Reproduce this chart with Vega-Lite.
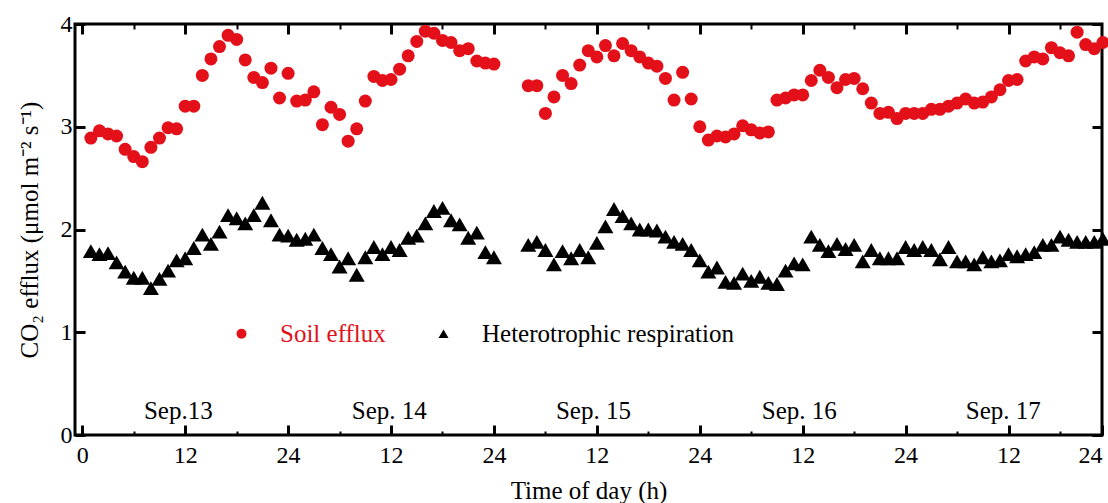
{
  "$schema": "https://vega.github.io/schema/vega-lite/v6.json",
  "width": 1027,
  "height": 411,
  "autosize": {"type": "none"},
  "padding": {"left": 75, "top": 24, "right": 6, "bottom": 68},
  "background": "white",
  "config": {
    "font": "Liberation Serif",
    "view": {"stroke": "black", "strokeWidth": 3},
    "axis": {"domain": false, "grid": false, "tickColor": "black", "labelColor": "black", "titleColor": "black", "labelFontSize": 24, "titleFontSize": 25, "titleFontWeight": "normal", "labelFont": "Liberation Serif", "titleFont": "Liberation Serif", "labelFlush": false, "labelOverlap": false}
  },
  "datasets": {
    "flux": [
      {"h":1,"series":"Soil efflux","v":2.89},{"h":2,"series":"Soil efflux","v":2.96},{"h":3,"series":"Soil efflux","v":2.93},{"h":4,"series":"Soil efflux","v":2.91},{"h":5,"series":"Soil efflux","v":2.78},{"h":6,"series":"Soil efflux","v":2.71},{"h":7,"series":"Soil efflux","v":2.66},{"h":8,"series":"Soil efflux","v":2.80},{"h":9,"series":"Soil efflux","v":2.89},{"h":10,"series":"Soil efflux","v":2.99},{"h":11,"series":"Soil efflux","v":2.98},{"h":12,"series":"Soil efflux","v":3.20},{"h":13,"series":"Soil efflux","v":3.20},{"h":14,"series":"Soil efflux","v":3.50},{"h":15,"series":"Soil efflux","v":3.66},{"h":16,"series":"Soil efflux","v":3.78},{"h":17,"series":"Soil efflux","v":3.89},{"h":18,"series":"Soil efflux","v":3.85},{"h":19,"series":"Soil efflux","v":3.65},{"h":20,"series":"Soil efflux","v":3.48},{"h":21,"series":"Soil efflux","v":3.43},{"h":22,"series":"Soil efflux","v":3.57},{"h":23,"series":"Soil efflux","v":3.28},{"h":24,"series":"Soil efflux","v":3.52},
      {"h":25,"series":"Soil efflux","v":3.25},{"h":26,"series":"Soil efflux","v":3.26},{"h":27,"series":"Soil efflux","v":3.34},{"h":28,"series":"Soil efflux","v":3.02},{"h":29,"series":"Soil efflux","v":3.19},{"h":30,"series":"Soil efflux","v":3.12},{"h":31,"series":"Soil efflux","v":2.86},{"h":32,"series":"Soil efflux","v":2.98},{"h":33,"series":"Soil efflux","v":3.25},{"h":34,"series":"Soil efflux","v":3.49},{"h":35,"series":"Soil efflux","v":3.45},{"h":36,"series":"Soil efflux","v":3.46},{"h":37,"series":"Soil efflux","v":3.56},{"h":38,"series":"Soil efflux","v":3.69},{"h":39,"series":"Soil efflux","v":3.83},{"h":40,"series":"Soil efflux","v":3.93},{"h":41,"series":"Soil efflux","v":3.91},{"h":42,"series":"Soil efflux","v":3.84},{"h":43,"series":"Soil efflux","v":3.82},{"h":44,"series":"Soil efflux","v":3.74},{"h":45,"series":"Soil efflux","v":3.76},{"h":46,"series":"Soil efflux","v":3.64},{"h":47,"series":"Soil efflux","v":3.62},{"h":48,"series":"Soil efflux","v":3.61},
      {"h":52,"series":"Soil efflux","v":3.40},{"h":53,"series":"Soil efflux","v":3.40},{"h":54,"series":"Soil efflux","v":3.13},{"h":55,"series":"Soil efflux","v":3.29},{"h":56,"series":"Soil efflux","v":3.50},{"h":57,"series":"Soil efflux","v":3.42},{"h":58,"series":"Soil efflux","v":3.60},{"h":59,"series":"Soil efflux","v":3.74},{"h":60,"series":"Soil efflux","v":3.68},{"h":61,"series":"Soil efflux","v":3.79},{"h":62,"series":"Soil efflux","v":3.69},{"h":63,"series":"Soil efflux","v":3.81},{"h":64,"series":"Soil efflux","v":3.74},{"h":65,"series":"Soil efflux","v":3.68},{"h":66,"series":"Soil efflux","v":3.62},{"h":67,"series":"Soil efflux","v":3.59},{"h":68,"series":"Soil efflux","v":3.47},{"h":69,"series":"Soil efflux","v":3.26},{"h":70,"series":"Soil efflux","v":3.53},{"h":71,"series":"Soil efflux","v":3.27},{"h":72,"series":"Soil efflux","v":3.00},
      {"h":73,"series":"Soil efflux","v":2.87},{"h":74,"series":"Soil efflux","v":2.91},{"h":75,"series":"Soil efflux","v":2.90},{"h":76,"series":"Soil efflux","v":2.93},{"h":77,"series":"Soil efflux","v":3.01},{"h":78,"series":"Soil efflux","v":2.97},{"h":79,"series":"Soil efflux","v":2.94},{"h":80,"series":"Soil efflux","v":2.95},{"h":81,"series":"Soil efflux","v":3.26},{"h":82,"series":"Soil efflux","v":3.28},{"h":83,"series":"Soil efflux","v":3.31},{"h":84,"series":"Soil efflux","v":3.31},{"h":85,"series":"Soil efflux","v":3.45},{"h":86,"series":"Soil efflux","v":3.55},{"h":87,"series":"Soil efflux","v":3.48},{"h":88,"series":"Soil efflux","v":3.38},{"h":89,"series":"Soil efflux","v":3.46},{"h":90,"series":"Soil efflux","v":3.47},{"h":91,"series":"Soil efflux","v":3.37},{"h":92,"series":"Soil efflux","v":3.23},{"h":93,"series":"Soil efflux","v":3.13},{"h":94,"series":"Soil efflux","v":3.14},{"h":95,"series":"Soil efflux","v":3.08},{"h":96,"series":"Soil efflux","v":3.13},
      {"h":97,"series":"Soil efflux","v":3.13},{"h":98,"series":"Soil efflux","v":3.13},{"h":99,"series":"Soil efflux","v":3.17},{"h":100,"series":"Soil efflux","v":3.17},{"h":101,"series":"Soil efflux","v":3.20},{"h":102,"series":"Soil efflux","v":3.23},{"h":103,"series":"Soil efflux","v":3.27},{"h":104,"series":"Soil efflux","v":3.23},{"h":105,"series":"Soil efflux","v":3.24},{"h":106,"series":"Soil efflux","v":3.29},{"h":107,"series":"Soil efflux","v":3.36},{"h":108,"series":"Soil efflux","v":3.45},{"h":109,"series":"Soil efflux","v":3.46},{"h":110,"series":"Soil efflux","v":3.64},{"h":111,"series":"Soil efflux","v":3.68},{"h":112,"series":"Soil efflux","v":3.66},{"h":113,"series":"Soil efflux","v":3.77},{"h":114,"series":"Soil efflux","v":3.72},{"h":115,"series":"Soil efflux","v":3.69},{"h":116,"series":"Soil efflux","v":3.92},{"h":117,"series":"Soil efflux","v":3.80},{"h":118,"series":"Soil efflux","v":3.76},{"h":119,"series":"Soil efflux","v":3.82},
      {"h":1,"series":"Heterotrophic respiration","v":1.79},{"h":2,"series":"Heterotrophic respiration","v":1.76},{"h":3,"series":"Heterotrophic respiration","v":1.77},{"h":4,"series":"Heterotrophic respiration","v":1.68},{"h":5,"series":"Heterotrophic respiration","v":1.59},{"h":6,"series":"Heterotrophic respiration","v":1.53},{"h":7,"series":"Heterotrophic respiration","v":1.53},{"h":8,"series":"Heterotrophic respiration","v":1.43},{"h":9,"series":"Heterotrophic respiration","v":1.52},{"h":10,"series":"Heterotrophic respiration","v":1.60},{"h":11,"series":"Heterotrophic respiration","v":1.70},{"h":12,"series":"Heterotrophic respiration","v":1.72},{"h":13,"series":"Heterotrophic respiration","v":1.82},{"h":14,"series":"Heterotrophic respiration","v":1.95},{"h":15,"series":"Heterotrophic respiration","v":1.86},{"h":16,"series":"Heterotrophic respiration","v":1.98},{"h":17,"series":"Heterotrophic respiration","v":2.14},{"h":18,"series":"Heterotrophic respiration","v":2.11},{"h":19,"series":"Heterotrophic respiration","v":2.06},{"h":20,"series":"Heterotrophic respiration","v":2.14},{"h":21,"series":"Heterotrophic respiration","v":2.26},{"h":22,"series":"Heterotrophic respiration","v":2.09},{"h":23,"series":"Heterotrophic respiration","v":1.95},{"h":24,"series":"Heterotrophic respiration","v":1.94},
      {"h":25,"series":"Heterotrophic respiration","v":1.90},{"h":26,"series":"Heterotrophic respiration","v":1.91},{"h":27,"series":"Heterotrophic respiration","v":1.95},{"h":28,"series":"Heterotrophic respiration","v":1.82},{"h":29,"series":"Heterotrophic respiration","v":1.76},{"h":30,"series":"Heterotrophic respiration","v":1.64},{"h":31,"series":"Heterotrophic respiration","v":1.72},{"h":32,"series":"Heterotrophic respiration","v":1.56},{"h":33,"series":"Heterotrophic respiration","v":1.73},{"h":34,"series":"Heterotrophic respiration","v":1.83},{"h":35,"series":"Heterotrophic respiration","v":1.76},{"h":36,"series":"Heterotrophic respiration","v":1.83},{"h":37,"series":"Heterotrophic respiration","v":1.80},{"h":38,"series":"Heterotrophic respiration","v":1.92},{"h":39,"series":"Heterotrophic respiration","v":1.94},{"h":40,"series":"Heterotrophic respiration","v":2.06},{"h":41,"series":"Heterotrophic respiration","v":2.18},{"h":42,"series":"Heterotrophic respiration","v":2.21},{"h":43,"series":"Heterotrophic respiration","v":2.09},{"h":44,"series":"Heterotrophic respiration","v":2.05},{"h":45,"series":"Heterotrophic respiration","v":1.92},{"h":46,"series":"Heterotrophic respiration","v":1.97},{"h":47,"series":"Heterotrophic respiration","v":1.78},{"h":48,"series":"Heterotrophic respiration","v":1.73},
      {"h":52,"series":"Heterotrophic respiration","v":1.85},{"h":53,"series":"Heterotrophic respiration","v":1.88},{"h":54,"series":"Heterotrophic respiration","v":1.80},{"h":55,"series":"Heterotrophic respiration","v":1.66},{"h":56,"series":"Heterotrophic respiration","v":1.79},{"h":57,"series":"Heterotrophic respiration","v":1.72},{"h":58,"series":"Heterotrophic respiration","v":1.80},{"h":59,"series":"Heterotrophic respiration","v":1.73},{"h":60,"series":"Heterotrophic respiration","v":1.87},{"h":61,"series":"Heterotrophic respiration","v":2.03},{"h":62,"series":"Heterotrophic respiration","v":2.20},{"h":63,"series":"Heterotrophic respiration","v":2.13},{"h":64,"series":"Heterotrophic respiration","v":2.06},{"h":65,"series":"Heterotrophic respiration","v":2.00},{"h":66,"series":"Heterotrophic respiration","v":2.00},{"h":67,"series":"Heterotrophic respiration","v":1.99},{"h":68,"series":"Heterotrophic respiration","v":1.93},{"h":69,"series":"Heterotrophic respiration","v":1.88},{"h":70,"series":"Heterotrophic respiration","v":1.86},{"h":71,"series":"Heterotrophic respiration","v":1.80},{"h":72,"series":"Heterotrophic respiration","v":1.70},
      {"h":73,"series":"Heterotrophic respiration","v":1.59},{"h":74,"series":"Heterotrophic respiration","v":1.63},{"h":75,"series":"Heterotrophic respiration","v":1.49},{"h":76,"series":"Heterotrophic respiration","v":1.48},{"h":77,"series":"Heterotrophic respiration","v":1.57},{"h":78,"series":"Heterotrophic respiration","v":1.50},{"h":79,"series":"Heterotrophic respiration","v":1.54},{"h":80,"series":"Heterotrophic respiration","v":1.48},{"h":81,"series":"Heterotrophic respiration","v":1.47},{"h":82,"series":"Heterotrophic respiration","v":1.60},{"h":83,"series":"Heterotrophic respiration","v":1.67},{"h":84,"series":"Heterotrophic respiration","v":1.66},{"h":85,"series":"Heterotrophic respiration","v":1.93},{"h":86,"series":"Heterotrophic respiration","v":1.85},{"h":87,"series":"Heterotrophic respiration","v":1.79},{"h":88,"series":"Heterotrophic respiration","v":1.86},{"h":89,"series":"Heterotrophic respiration","v":1.81},{"h":90,"series":"Heterotrophic respiration","v":1.85},{"h":91,"series":"Heterotrophic respiration","v":1.69},{"h":92,"series":"Heterotrophic respiration","v":1.80},{"h":93,"series":"Heterotrophic respiration","v":1.72},{"h":94,"series":"Heterotrophic respiration","v":1.72},{"h":95,"series":"Heterotrophic respiration","v":1.72},{"h":96,"series":"Heterotrophic respiration","v":1.83},
      {"h":97,"series":"Heterotrophic respiration","v":1.80},{"h":98,"series":"Heterotrophic respiration","v":1.83},{"h":99,"series":"Heterotrophic respiration","v":1.80},{"h":100,"series":"Heterotrophic respiration","v":1.71},{"h":101,"series":"Heterotrophic respiration","v":1.83},{"h":102,"series":"Heterotrophic respiration","v":1.69},{"h":103,"series":"Heterotrophic respiration","v":1.69},{"h":104,"series":"Heterotrophic respiration","v":1.66},{"h":105,"series":"Heterotrophic respiration","v":1.73},{"h":106,"series":"Heterotrophic respiration","v":1.69},{"h":107,"series":"Heterotrophic respiration","v":1.70},{"h":108,"series":"Heterotrophic respiration","v":1.76},{"h":109,"series":"Heterotrophic respiration","v":1.74},{"h":110,"series":"Heterotrophic respiration","v":1.76},{"h":111,"series":"Heterotrophic respiration","v":1.78},{"h":112,"series":"Heterotrophic respiration","v":1.85},{"h":113,"series":"Heterotrophic respiration","v":1.85},{"h":114,"series":"Heterotrophic respiration","v":1.93},{"h":115,"series":"Heterotrophic respiration","v":1.90},{"h":116,"series":"Heterotrophic respiration","v":1.88},{"h":117,"series":"Heterotrophic respiration","v":1.88},{"h":118,"series":"Heterotrophic respiration","v":1.88},{"h":119,"series":"Heterotrophic respiration","v":1.91}
    ],
    "days": [
      {"h":11.2,"v":0.16,"label":"Sep.13"},
      {"h":35.8,"v":0.16,"label":"Sep. 14"},
      {"h":59.6,"v":0.16,"label":"Sep. 15"},
      {"h":83.6,"v":0.16,"label":"Sep. 16"},
      {"h":107.4,"v":0.16,"label":"Sep. 17"}
    ]
  },
  "resolve": {"axis": {"x": "independent", "y": "independent"}},
  "layer": [
    {
      "data": {"name": "flux"},
      "transform": [{"filter": "datum.series === 'Soil efflux'"}],
      "mark": {"type": "point", "filled": true, "size": 169, "opacity": 1, "strokeWidth": 0},
      "encoding": {
        "x": {"field": "h", "type": "quantitative", "scale": {"domain": [-0.85, 118.9], "nice": false, "zero": false},
          "axis": {"orient": "bottom", "values": [0,6,12,18,24,30,36,42,48,54,60,66,72,78,84,90,96,102,108,114,118.9],
            "labelExpr": "datum.value > 118 ? '24' : (datum.value % 12 !== 0 ? '' : (datum.value === 0 ? '0' : (datum.value % 24 === 0 ? '24' : '12')))",
            "labelAlign": {"condition": {"test": "datum.value > 118", "value": "right"}, "value": "center"},
            "tickSize": {"condition": {"test": "datum.value % 12 === 0 || datum.value > 118", "value": -10}, "value": -4},
            "tickWidth": {"condition": {"test": "datum.value % 12 === 0 || datum.value > 118", "value": 3}, "value": 2},
            "labelPadding": 18, "title": "Time of day (h)", "titlePadding": 5}},
        "y": {"field": "v", "type": "quantitative", "scale": {"domain": [0, 4], "nice": false},
          "axis": {"orient": "left", "values": [0,1,2,3,4], "format": "d", "tickSize": -10, "tickWidth": 3, "labelPadding": 13,
            "title": "CO₂ efflux (μmol m⁻² s⁻¹)", "titlePadding": 18}},
        "color": {"field": "series", "type": "nominal", "scale": {"domain": ["Soil efflux", "Heterotrophic respiration"], "range": ["#e3101a", "black"]},
          "legend": {"title": null, "orient": "none", "legendX": 154, "legendY": 297, "direction": "horizontal", "symbolSize": 100, "symbolStrokeWidth": 0,
            "labelFontSize": 25, "labelFont": "Liberation Serif", "labelOffset": 26, "columnPadding": 45, "padding": 0,
            "labelLimit": 400,
            "labelColor": {"expr": "datum.value === 'Soil efflux' ? '#e3101a' : 'black'"}}},
        "shape": {"field": "series", "type": "nominal", "scale": {"domain": ["Soil efflux", "Heterotrophic respiration"], "range": ["circle", "triangle-up"]}}
      }
    },
    {
      "data": {"name": "flux"},
      "transform": [{"filter": "datum.series === 'Heterotrophic respiration'"}],
      "mark": {"type": "point", "filled": true, "size": 256, "opacity": 1, "strokeWidth": 0},
      "encoding": {
        "x": {"field": "h", "type": "quantitative", "axis": null},
        "y": {"field": "v", "type": "quantitative", "axis": null},
        "color": {"field": "series", "type": "nominal", "legend": null},
        "shape": {"field": "series", "type": "nominal", "legend": null}
      }
    },
    {
      "data": {"name": "days"},
      "mark": {"type": "text", "fontSize": 25, "font": "Liberation Serif", "color": "black", "align": "center", "baseline": "alphabetic"},
      "encoding": {
        "x": {"field": "h", "type": "quantitative",
          "axis": {"orient": "top", "values": [0,6,12,18,24,30,36,42,48,54,60,66,72,78,84,90,96,102,108,114], "labels": false, "title": null,
            "tickSize": {"condition": {"test": "datum.value % 12 === 0", "value": -10}, "value": -5},
            "tickWidth": {"condition": {"test": "datum.value % 12 === 0", "value": 3}, "value": 2}}},
        "y": {"field": "v", "type": "quantitative",
          "axis": {"orient": "right", "values": [0,1,2,3,4], "labels": false, "title": null, "tickSize": -10, "tickWidth": 3}},
        "text": {"field": "label"}
      }
    }
  ]
}
